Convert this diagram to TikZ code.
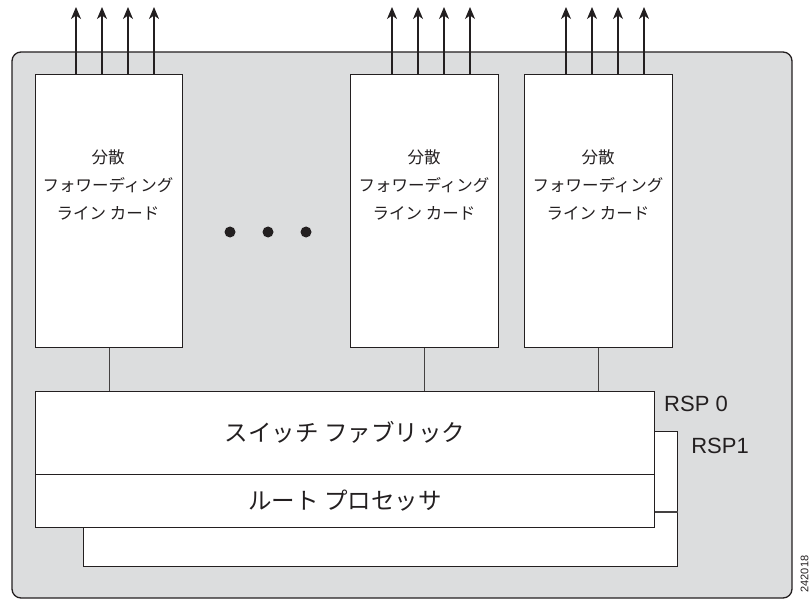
\documentclass[tikz,border=0pt]{standalone}
\usepackage{fontspec}
\setmainfont{Liberation Sans}
\newfontfamily\cjk{Noto Sans CJK JP}
\usetikzlibrary{arrows.meta}
\definecolor{panel}{RGB}{220,221,222}
\definecolor{ink}{RGB}{35,31,32}
\begin{document}
\begin{tikzpicture}[x=1pt,y=-1pt,
  box/.style={draw=ink,line width=1.2pt,fill=white},
  wire/.style={draw=ink!85,line width=1.1pt},
  outarrow/.style={draw=ink,line width=1.1pt,-{Stealth[length=12pt,width=10pt,inset=3.5pt]}},
  cardtxt/.style={font=\cjk\fontsize{16.5}{28}\selectfont,align=center,text=ink},
  bigtxt/.style={font=\cjk\fontsize{23.5}{26}\selectfont,text=ink},
  rsptxt/.style={font=\fontsize{22}{24}\selectfont,text=ink,inner sep=0pt}]
\useasboundingbox (0,0) rectangle (811,604);
% chassis
\draw[draw=ink,line width=1.3pt,fill=panel,rounded corners=9pt] (12,52) rectangle (792,598);
% line cards
\node[box,minimum width=147pt,minimum height=273pt,anchor=north west,inner sep=0pt] (c1) at (35,74) {};
\node[box,minimum width=148pt,minimum height=273pt,anchor=north west,inner sep=0pt] (c2) at (349.5,74) {};
\node[box,minimum width=148pt,minimum height=273pt,anchor=north west,inner sep=0pt] (c3) at (524,74) {};
\node[cardtxt] (t1) at (108,185) {分散\\フォワーディング\\ライン カード};
\node[cardtxt] (t2) at (424,185) {分散\\フォワーディング\\ライン カード};
\node[cardtxt] (t3) at (598,185) {分散\\フォワーディング\\ライン カード};
% output arrows
\foreach \x [count=\i] in {76,102,128,154} {\coordinate (a1\i) at (\x,7); \draw[outarrow] (c1.north -| a1\i) -- (a1\i);}
\foreach \x [count=\i] in {392,418,444,470} {\coordinate (a2\i) at (\x,7); \draw[outarrow] (c2.north -| a2\i) -- (a2\i);}
\foreach \x [count=\i] in {566,592,618,644} {\coordinate (a3\i) at (\x,7); \draw[outarrow] (c3.north -| a3\i) -- (a3\i);}
% dots
\foreach \x in {230,268,306} \fill[ink] (\x,232) circle (5.5pt);
% RSP1 (behind)
\node[box,minimum width=594pt,minimum height=135pt,anchor=north west,inner sep=0pt] (rsp1) at (83,431) {};
\coordinate (d1) at (654,512);
\draw[wire] (d1) -- (rsp1.east |- d1);
% RSP0
\node[box,minimum width=619pt,minimum height=83pt,anchor=north west,inner sep=0pt] (sf) at (35,390.5) {};
\node[box,minimum width=619pt,minimum height=53pt,anchor=north west,inner sep=0pt] (rp) at (35,473.5) {};
\node[bigtxt] at (sf.center) {スイッチ ファブリック};
\node[bigtxt] at (rp.center) {ルート プロセッサ};
% connectors
\draw[wire] (c1.south) -- (c1.south |- sf.north);
\draw[wire] (c2.south) -- (c2.south |- sf.north);
\draw[wire] (c3.south) -- (c3.south |- sf.north);
% labels
\node[rsptxt] (l0) at (696,404) {RSP 0};
\node[rsptxt] (l1) at (720,446) {RSP1};
\node[font=\fontsize{11}{12}\selectfont,text=ink,rotate=90,inner sep=0pt] (num) at (804.5,574) {242018};
\end{tikzpicture}
\end{document}
